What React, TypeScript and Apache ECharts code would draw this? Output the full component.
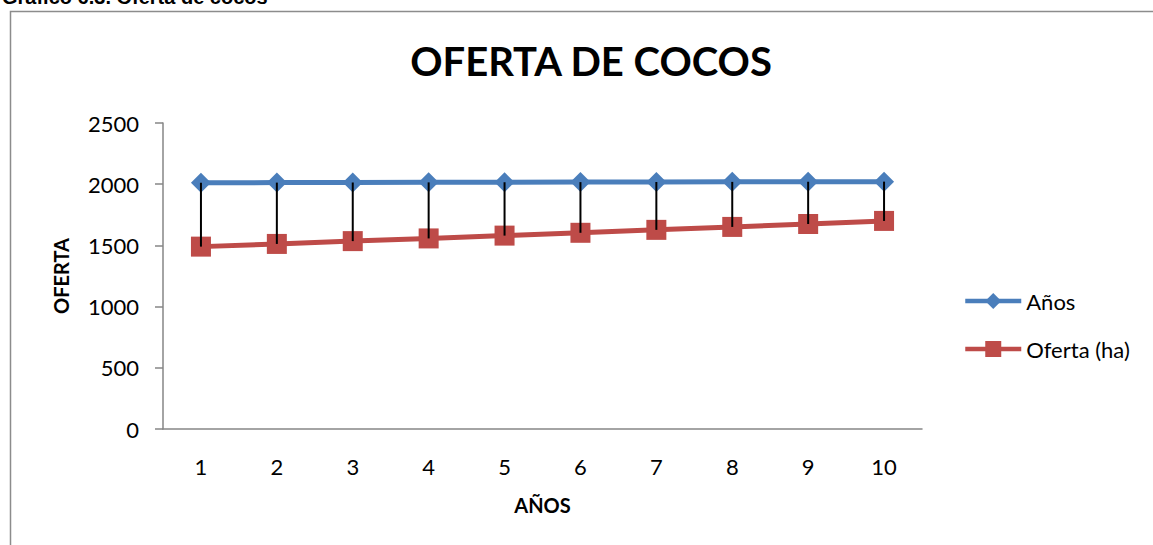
import React, { useEffect, useRef } from "react";
import * as echarts from "echarts";

const years: string[] = ["1", "2", "3", "4", "5", "6", "7", "8", "9", "10"];
const anos: number[] = [2012, 2013, 2014, 2015, 2016, 2017, 2018, 2019, 2020, 2021];
const oferta: number[] = [1490, 1512, 1535, 1557, 1580, 1603, 1627, 1651, 1675, 1700];
const yTicks = { min: 0, max: 2500, interval: 500 };

const BLUE = "#4A7EBB";
const RED = "#BE4B48";
const FONT = "Lato, 'Open Sans', sans-serif";

export default function App() {
  const ref = useRef<HTMLDivElement>(null);
  useEffect(() => {
    if (!ref.current) return;
    const chart = echarts.init(ref.current, undefined, { renderer: "svg" });
    const dropData = years.map((_, i) => [i, anos[i], oferta[i]]);
    chart.setOption({
      animation: false,
      backgroundColor: "#ffffff",
      textStyle: { fontFamily: FONT, color: "#000" },
      grid: { left: 163, right: 231, top: 123, bottom: 116 },
      legend: {
        data: ["Años", "Oferta (ha)"],
        orient: "vertical",
        left: 963,
        top: 290,
        padding: 0,
        itemWidth: 56,
        itemHeight: 20,
        itemGap: 26,
        lineStyle: { width: 4.5 },
        textStyle: { fontFamily: FONT, fontSize: 22, color: "#000" },
      },
      graphic: [
        {
          type: "rect",
          shape: { x: 10.5, y: 11.5, width: 1300, height: 700 },
          style: { fill: "none", stroke: "#8c8c8c", lineWidth: 1.5 },
          silent: true,
        },
        {
          type: "text",
          x: 2,
          y: 7,
          style: {
            text: "Gráfico 6.3. Oferta de cocos",
            font: "bold 20px 'Liberation Sans', Arial, sans-serif",
            fill: "#000",
            textVerticalAlign: "bottom",
          },
        },
        {
          type: "text",
          x: 591,
          y: 61,
          style: {
            text: "OFERTA DE COCOS",
            font: "bold 40px Lato, sans-serif",
            fill: "#000",
            textAlign: "center",
            textVerticalAlign: "middle",
          },
        },
      ],
      xAxis: {
        type: "category",
        data: years,
        boundaryGap: true,
        name: "AÑOS",
        nameLocation: "middle",
        nameGap: 66,
        nameTextStyle: { fontFamily: FONT, fontWeight: "bold", fontSize: 20, color: "#000" },
        axisLine: { show: true, lineStyle: { color: "#868686", width: 1.5 } },
        axisTick: { show: false },
        axisLabel: { fontFamily: FONT, fontSize: 22, color: "#000", margin: 26 },
        splitLine: { show: false },
      },
      yAxis: {
        type: "value",
        min: yTicks.min,
        max: yTicks.max,
        interval: yTicks.interval,
        name: "OFERTA",
        nameLocation: "middle",
        nameGap: 92,
        nameRotate: 90,
        nameTextStyle: { fontFamily: FONT, fontWeight: "bold", fontSize: 20, color: "#000" },
        axisLine: { show: true, lineStyle: { color: "#868686", width: 1.5 } },
        axisTick: { show: true, length: 8, lineStyle: { color: "#868686", width: 1.5 } },
        axisLabel: {
          fontFamily: FONT,
          fontSize: 22,
          color: "#000",
          margin: 24,
          formatter: (v: number) => String(v),
        },
        splitLine: { show: false },
      },
      series: [
        {
          name: "Años",
          type: "line",
          data: anos,
          symbol: "diamond",
          symbolSize: 20,
          lineStyle: { color: BLUE, width: 5 },
          itemStyle: { color: BLUE },
          z: 2,
        },
        {
          name: "Oferta (ha)",
          type: "line",
          data: oferta,
          symbol: "rect",
          symbolSize: 20,
          lineStyle: { color: RED, width: 5 },
          itemStyle: { color: RED },
          z: 2,
        },
        {
          name: "hilo",
          type: "custom",
          data: dropData,
          z: 5,
          silent: true,
          renderItem: (_params: any, api: any) => {
            const top = api.coord([api.value(0), api.value(1)]);
            const bot = api.coord([api.value(0), api.value(2)]);
            return {
              type: "line",
              shape: { x1: top[0], y1: top[1], x2: bot[0], y2: bot[1] },
              style: { stroke: "#000", lineWidth: 2 },
            };
          },
        },
      ],
    });
    return () => chart.dispose();
  }, []);
  return (
    <div
      ref={ref}
      style={{ position: "fixed", left: 0, top: 0, width: 1153, height: 545 }}
    />
  );
}
